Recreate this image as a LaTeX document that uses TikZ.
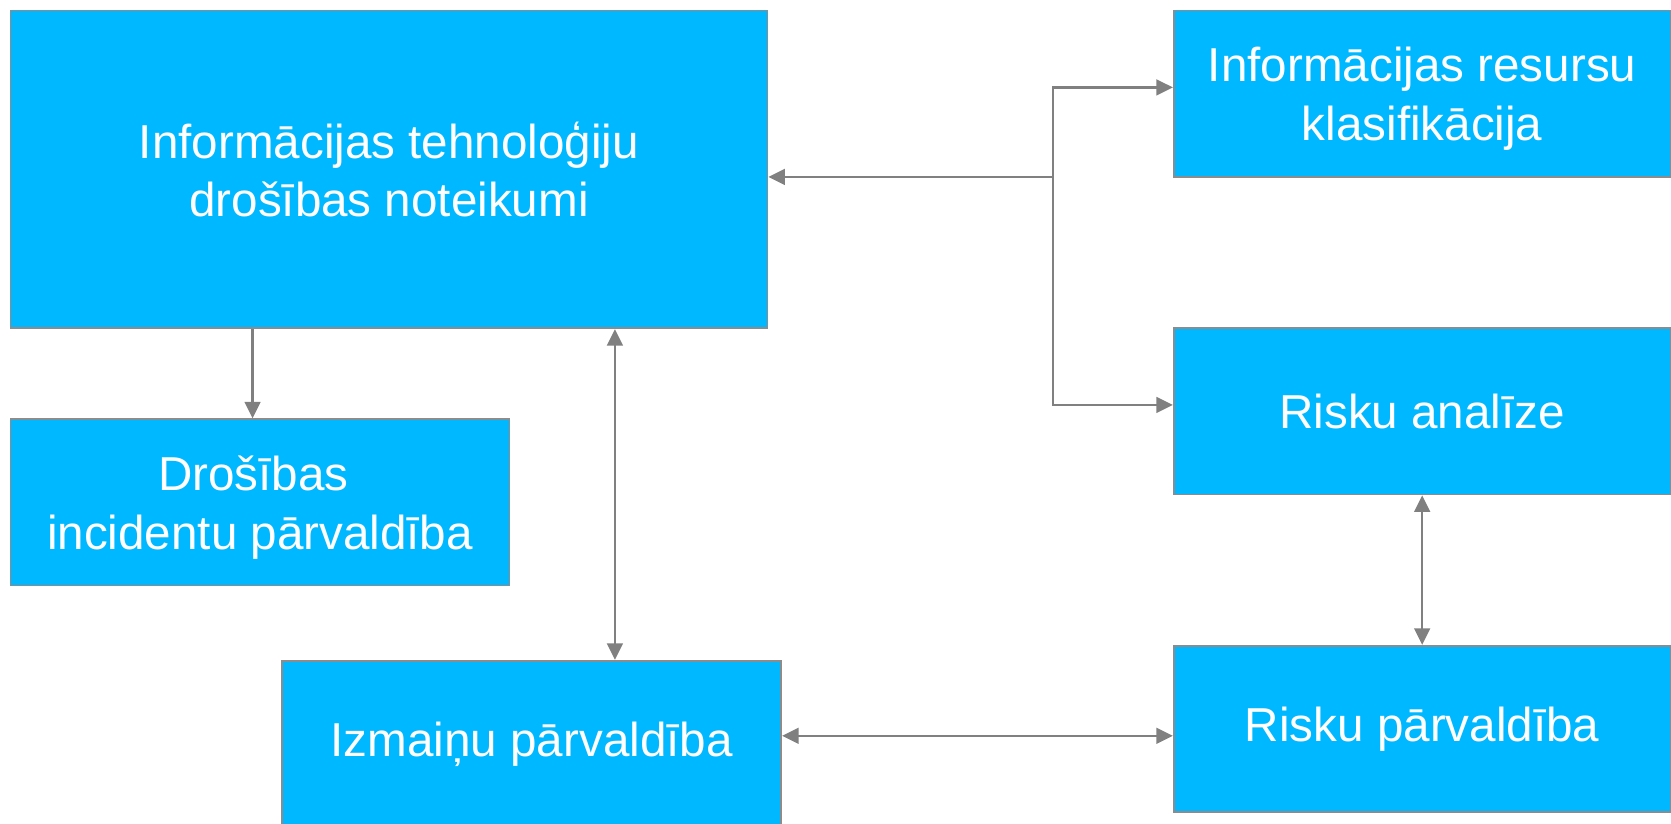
\documentclass[tikz,border=0pt]{standalone}
\usepackage{fontspec}
\setmainfont{Liberation Sans}
\usetikzlibrary{positioning, calc, arrows.meta}
\definecolor{boxblue}{RGB}{0,184,255}
\definecolor{boxgray}{RGB}{140,140,140}
\definecolor{linkgray}{RGB}{128,128,128}
\begin{document}
\begin{tikzpicture}[x=0.01cm, y=-0.01cm,
	box/.style={draw=boxgray, line width=0.45pt, fill=boxblue, text=white, align=center, inner sep=0pt,
		font=\fontsize{12.7}{15.6}\selectfont},
	small/.style={box, minimum width=4.66cm, minimum height=1.56cm},
	link/.style={draw=linkgray, line width=0.6pt, >={Triangle[length=4.4pt, width=4.2pt]}}]
	\useasboundingbox (0,0) rectangle (1568,773);
	\node[box, minimum width=7.1cm, minimum height=2.98cm] (rules) at (365,159) {Informācijas tehnoloģiju\\ drošības noteikumi};
	\node[small, minimum width=4.68cm, text depth=0pt] (incid) at (244,471.5) {Drošības\kern0.278em\\incidentu pārvaldība};
	\node[small, minimum width=4.68cm, minimum height=1.57cm] (change) at (499,698.5) {Izmaiņu pārvaldība};
	\node[small, text depth=0pt] (classif) at (1334.5,88) {Informācijas resursu\\ klasifikācija};
	\node[small] (analysis) at (1334.5,386) {Risku analīze};
	\node[small] (riskmgmt) at (1334.5,684) {Risku pārvaldība};
	\coordinate (hub) at (988,166);
	\coordinate (cx) at (577,0);
	\coordinate (ix) at ($(incid.north)+(-7,0)$);
	\coordinate (cy) at ($(change.east)+(0,-8)$);
	\draw[link, ->] (rules.south -| ix) -- (ix);
	\draw[link, <->] (rules.south -| cx) -- (change.north -| cx);
	\draw[link, ->] (hub) -- (hub -| rules.east);
	\draw[link, ->] (hub) |- ($(classif.west)+(0,-6)$);
	\draw[link, ->] (hub) |- ($(analysis.west)+(0,-6)$);
	\draw[link, <->] (analysis.south) -- (riskmgmt.north);
	\draw[link, <->] (cy) -- (cy -| riskmgmt.west);
\end{tikzpicture}
\end{document}
